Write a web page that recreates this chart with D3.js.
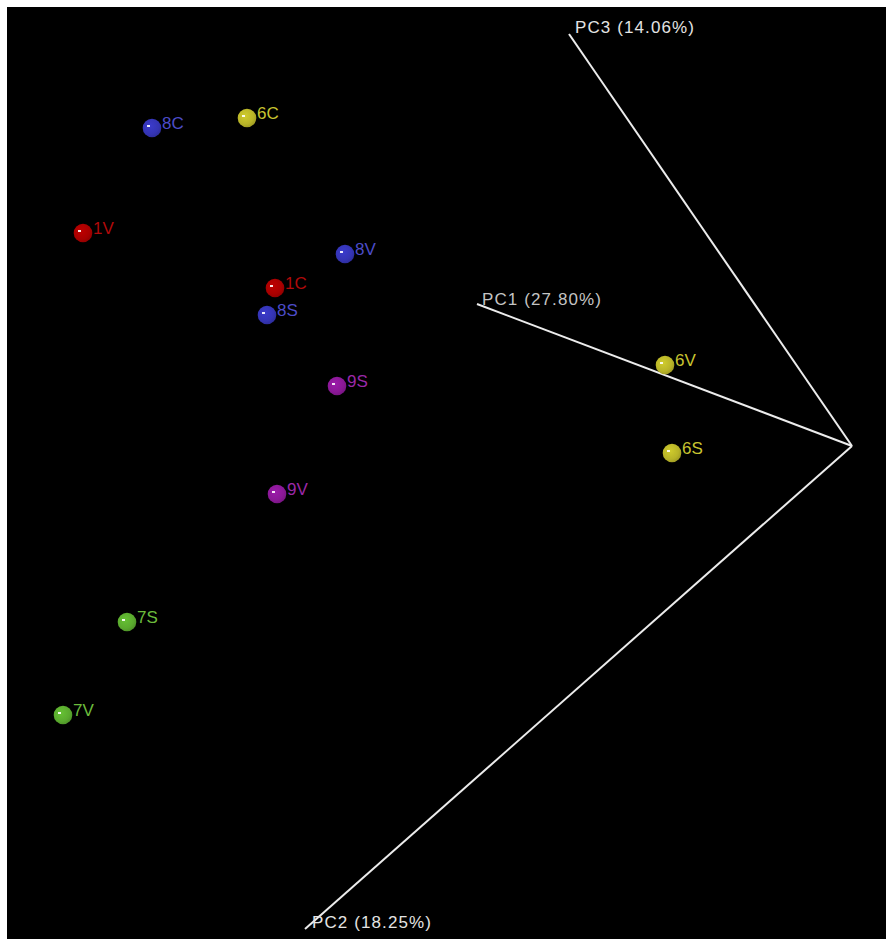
<!DOCTYPE html>
<html>
<head>
<meta charset="utf-8">
<script src="https://cdn.jsdelivr.net/npm/d3@7"></script>
<style>
  html, body { margin: 0; padding: 0; background: #ffffff; }
  svg { display: block; }
  text { font-family: "Liberation Sans", Arial, sans-serif; }
</style>
</head>
<body>
<svg id="chart" width="891" height="939"></svg>
<script>
// Sample scores projected onto the viewing plane (origin = where the PC axes meet)
const samples = ["8C", "6C", "1V", "8V", "1C", "8S", "9S", "9V", "7S", "7V", "6V", "6S"];
const planeX  = [-7.00, -6.05, -7.69, -5.07, -5.77, -5.85, -5.15, -5.75, -7.25, -7.89, -1.87, -1.80];
const planeY  = [ 3.18,  3.28,  2.13,  1.92,  1.58,  1.31,  0.60, -0.48, -1.76, -2.69,  0.81, -0.07];
const groups  = ["8", "6", "1", "8", "1", "8", "9", "9", "7", "7", "6", "6"];

// Principal-component axes projected onto the same plane
const axisLabels = ["PC1 (27.80%)", "PC2 (18.25%)", "PC3 (14.06%)"];
const axisX      = [-3.75, -5.47, -2.83];
const axisY      = [ 1.42, -4.83,  4.12];

const groupColor = {
  "1": { fill: "#a80000", text: "#b00a0a" },
  "6": { fill: "#b8b428", text: "#c8c430" },
  "7": { fill: "#5aaa2e", text: "#6cbc3c" },
  "8": { fill: "#3434b4", text: "#4c4cc8" },
  "9": { fill: "#8a1896", text: "#9a28a8" }
};

const svg = d3.select("#chart");
const W = 891, H = 939;

// White frame with black plot area
svg.append("rect").attr("x", 0).attr("y", 0).attr("width", W).attr("height", H).attr("fill", "#ffffff");
svg.append("rect").attr("x", 7).attr("y", 7).attr("width", 879).attr("height", 932).attr("fill", "#000000");

const x = d3.scaleLinear().domain([-8.45, 0.34]).range([7, 886]);
const y = d3.scaleLinear().domain([4.39, -4.93]).range([7, 939]);

// Axes from the common origin
const axes = axisLabels.map((label, i) => ({ label, x: axisX[i], y: axisY[i] }));
svg.append("g").selectAll("line").data(axes).join("line")
  .attr("x1", x(0)).attr("y1", y(0))
  .attr("x2", d => x(d.x)).attr("y2", d => y(d.y))
  .attr("stroke", "#ececec").attr("stroke-width", 2);

const axisTextStyle = [
  { dx: 5, dy: 1, fill: "#c4c4c4" },
  { dx: 7, dy: -1, fill: "#e4e4e4" },
  { dx: 6, dy: -1, fill: "#e4e4e4" }
];
svg.append("g").selectAll("text").data(axes).join("text")
  .attr("x", (d, i) => x(d.x) + axisTextStyle[i].dx)
  .attr("y", (d, i) => y(d.y) + axisTextStyle[i].dy)
  .attr("fill", (d, i) => axisTextStyle[i].fill)
  .attr("font-size", 17)
  .attr("letter-spacing", 1.1)
  .text(d => d.label);

// Shaded sphere gradients per group
const defs = svg.append("defs");
Object.entries(groupColor).forEach(([g, c]) => {
  const base = d3.color(c.fill);
  const grad = defs.append("radialGradient").attr("id", "ball" + g)
    .attr("cx", "40%").attr("cy", "38%").attr("r", "65%");
  grad.append("stop").attr("offset", "0%").attr("stop-color", base.brighter(0.35).formatHex());
  grad.append("stop").attr("offset", "70%").attr("stop-color", base.formatHex());
  grad.append("stop").attr("offset", "100%").attr("stop-color", base.darker(0.4).formatHex());
});

const points = samples.map((s, i) => ({ name: s, x: planeX[i], y: planeY[i], g: groups[i] }));
const pg = svg.append("g").selectAll("g").data(points).join("g")
  .attr("transform", d => `translate(${x(d.x)},${y(d.y)})`);

pg.append("circle").attr("r", 9.3).attr("fill", d => `url(#ball${d.g})`);
pg.append("rect").attr("x", -5).attr("y", -3).attr("width", 3).attr("height", 2)
  .attr("fill", "#ffffff").attr("opacity", 0.9);
pg.append("text")
  .attr("x", 10).attr("y", 1)
  .attr("font-size", 17)
  .attr("fill", d => groupColor[d.g].text)
  .text(d => d.name);
</script>
</body>
</html>
